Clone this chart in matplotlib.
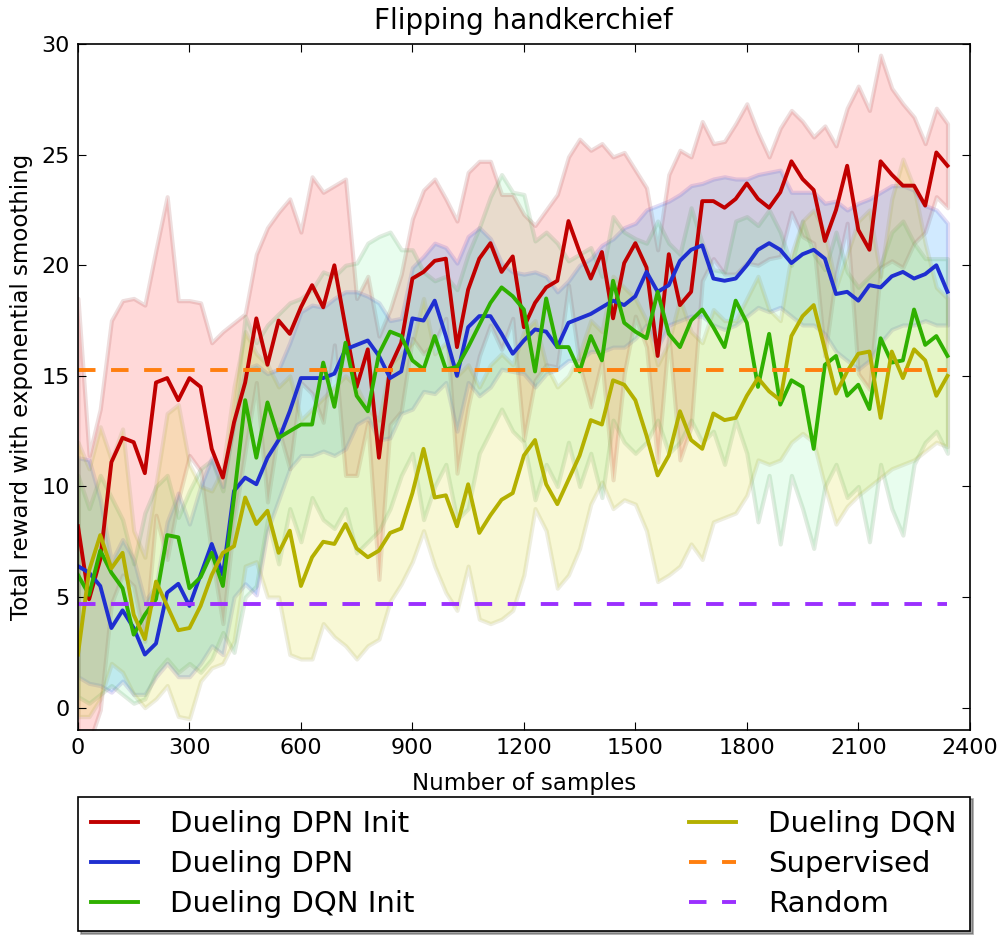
import matplotlib
matplotlib.use("Agg")
import matplotlib.pyplot as plt
import numpy as np

# sample axis: one point every 30 samples, 0 .. 2340
samples = np.arange(0, 2341, 30)

# ── Dueling DPN Init (red) ──
dpn_init = [8.2, 4.9, 6.7, 11.1, 12.2, 12.0, 10.6, 14.7, 14.9, 13.9, 14.9, 14.5, 11.7, 10.4,
            12.9, 14.7, 17.6, 15.5, 17.5, 16.9, 18.1, 19.1, 18.1, 20.0, 17.2, 14.5, 16.2, 11.3,
            15.4, 16.5, 19.4, 19.7, 20.2, 20.3, 16.3, 18.9, 20.3, 21.0, 19.7, 20.4, 17.2,
            18.3, 19.0, 19.3, 22.0, 20.6, 19.4, 20.6, 17.6, 20.1, 21.0, 19.9, 15.9, 20.5,
            18.2, 18.8, 22.9, 22.9, 22.6, 23.0, 23.7, 23.0, 22.6, 23.3, 24.7, 23.9, 23.4,
            21.1, 22.5, 24.5, 21.6, 20.7, 24.7, 24.1, 23.6, 23.6, 22.7, 25.1, 24.5]
dpn_init_hi = [18.5, 11.4, 13.5, 17.5, 18.4, 18.5, 18.2, 20.7, 23.1, 18.4, 18.4, 18.3, 16.5, 17.0,
               17.4, 17.8, 20.5, 21.7, 22.4, 23.0, 21.5, 24.0, 23.3, 23.6, 23.9, 18.5, 19.5, 16.8,
               18.0, 19.6, 22.1, 23.4, 23.9, 23.0, 22.0, 24.2, 24.7, 24.7, 23.2, 23.2, 22.3,
               21.8, 22.5, 23.2, 24.9, 25.7, 25.2, 25.5, 24.9, 25.1, 24.3, 23.5, 20.7, 24.1,
               25.2, 24.9, 26.5, 25.5, 25.6, 26.4, 27.3, 26.0, 24.9, 26.2, 27.0, 26.5, 25.8,
               26.3, 25.4, 27.1, 28.1, 27.0, 29.5, 28.0, 27.3, 26.7, 25.5, 27.1, 26.4]
dpn_init_lo = [-2.1, -1.6, -0.1, 4.7, 6.0, 5.5, 3.0, 8.7, 6.7, 9.4, 11.4, 10.7, 6.9, 3.8,
               8.4, 11.6, 14.7, 9.3, 12.6, 10.8, 14.7, 14.2, 12.9, 16.4, 10.5, 10.5, 12.9, 5.8,
               12.8, 13.4, 16.7, 16.0, 16.5, 17.6, 10.6, 13.6, 15.9, 17.3, 16.2, 17.6, 12.1,
               14.8, 15.5, 15.4, 19.1, 15.5, 13.6, 15.7, 10.3, 15.1, 17.7, 16.3, 11.1, 16.9,
               11.2, 12.7, 19.3, 20.3, 19.6, 19.6, 20.1, 20.0, 20.3, 20.4, 22.4, 21.3, 21.0,
               15.9, 19.6, 21.9, 15.1, 14.4, 19.9, 20.2, 19.9, 21.0, 21.5, 23.1, 22.6]

# ── Dueling DPN (blue) ──
dpn = [6.4, 6.1, 5.5, 3.6, 4.4, 3.6, 2.4, 2.9, 5.2, 5.6, 4.6, 6.0, 7.4, 6.0,
       9.8, 10.4, 10.1, 11.3, 12.1, 13.4, 14.9, 14.9, 14.9, 15.1, 16.2, 16.4, 16.6, 15.9,
       14.9, 15.2, 17.6, 17.5, 18.4, 16.8, 15.0, 17.2, 17.7, 17.7, 16.9, 16.0, 16.6,
       17.1, 17.0, 16.3, 17.4, 17.6, 17.8, 18.1, 18.4, 18.2, 18.6, 19.7, 18.8, 19.1,
       20.2, 20.7, 20.9, 19.4, 19.3, 19.4, 20.0, 20.7, 21.0, 20.7, 20.1, 20.5, 20.7,
       20.3, 18.7, 18.8, 18.4, 19.1, 19.0, 19.5, 19.7, 19.4, 19.6, 20.0, 18.8]
dpn_hi = [11.3, 11.2, 9.4, 6.6, 7.6, 6.7, 4.8, 5.5, 8.4, 9.7, 8.3, 10.0, 11.3, 10.0,
          12.9, 15.3, 15.5, 15.1, 15.3, 16.5, 17.9, 18.2, 18.1, 18.5, 18.8, 18.8, 18.6, 18.3,
          17.5, 17.6, 19.9, 20.4, 21.0, 20.8, 20.1, 21.3, 21.7, 21.2, 20.1, 19.7, 19.6,
          19.7, 19.5, 18.8, 19.3, 20.0, 20.3, 20.9, 21.2, 21.7, 21.9, 22.5, 22.7, 22.9,
          23.2, 23.6, 23.7, 23.9, 24.0, 23.9, 23.9, 24.1, 24.2, 24.3, 23.3, 23.3, 23.3,
          22.8, 22.9, 22.5, 22.8, 23.0, 23.3, 23.6, 23.6, 23.4, 22.7, 22.5, 21.9]
dpn_lo = [1.4, 1.1, 1.0, 0.7, 1.2, 0.6, 0.6, 1.4, 2.0, 1.4, 1.4, 2.0, 2.8, 2.4,
          5.0, 5.6, 5.1, 8.0, 9.4, 10.8, 11.4, 11.4, 11.6, 11.4, 11.7, 12.8, 13.1, 12.1,
          12.2, 13.3, 13.5, 14.3, 14.2, 14.7, 12.5, 14.7, 14.1, 14.5, 15.3, 15.2, 15.1,
          14.5, 15.1, 15.3, 15.7, 15.7, 16.1, 16.1, 16.3, 16.3, 16.7, 17.3, 16.3, 17.3,
          17.5, 17.7, 17.7, 17.3, 17.1, 17.3, 17.7, 18.1, 17.9, 18.1, 17.7, 17.3, 17.3,
          16.9, 16.1, 15.7, 15.3, 15.7, 16.5, 17.1, 17.3, 17.3, 17.5, 17.3, 17.3]

# ── Dueling DQN Init (green) ──
dqn_init = [6.0, 5.1, 7.1, 6.1, 5.4, 3.3, 4.2, 4.9, 7.8, 7.7, 5.4, 5.9, 7.0, 5.5,
            9.5, 13.9, 11.3, 13.8, 12.2, 12.5, 12.8, 12.8, 15.6, 13.6, 16.5, 14.1, 13.4, 16.0,
            17.0, 16.8, 15.7, 15.3, 16.8, 15.3, 15.4, 16.3, 17.3, 18.3, 19.0, 18.6, 18.0,
            15.2, 18.5, 16.3, 16.3, 15.2, 16.8, 15.7, 19.3, 17.4, 17.0, 16.7, 18.8, 16.9,
            16.3, 17.5, 18.0, 17.2, 16.3, 18.4, 17.4, 14.5, 16.9, 13.7, 14.8, 14.5, 11.7,
            15.5, 15.9, 14.1, 14.6, 13.5, 16.7, 15.6, 15.7, 18.0, 16.4, 16.8, 15.9]
dqn_init_hi = [10.5, 9.0, 10.5, 9.5, 8.5, 6.5, 8.8, 10.0, 10.5, 8.6, 9.8, 10.8, 11.2, 9.8,
               13.0, 17.7, 16.5, 17.3, 17.8, 18.3, 18.5, 18.9, 19.7, 19.5, 20.0, 20.1, 21.0, 21.3,
               21.5, 20.7, 20.7, 19.7, 19.3, 19.5, 18.9, 20.5, 21.7, 23.1, 24.1, 23.3, 23.2,
               21.1, 21.5, 21.0, 20.2, 20.5, 20.8, 19.5, 22.2, 21.5, 21.2, 21.0, 22.0, 21.0,
               20.5, 22.6, 21.0, 19.8, 19.7, 22.0, 22.2, 21.8, 22.5, 21.5, 20.0, 22.0, 20.5,
               19.8, 21.5, 19.7, 19.0, 19.5, 20.0, 21.5, 22.0, 21.0, 20.3, 20.3, 20.3]
dqn_init_lo = [0.5, 0.2, 0.6, 1.0, 0.6, 0.2, 0.4, 1.6, 2.2, 1.6, 2.0, 1.6, 2.2, 3.4,
               2.5, 5.0, 5.5, 8.5, 6.5, 9.0, 7.5, 9.5, 8.5, 8.1, 9.0, 7.0, 7.5, 8.0,
               9.0, 10.5, 11.5, 8.5, 10.0, 11.0, 8.5, 9.0, 11.5, 12.5, 13.5, 12.5, 12.0,
               9.4, 11.0, 10.0, 12.0, 10.0, 11.5, 9.5, 13.0, 12.0, 11.5, 12.0, 13.0, 11.5,
               12.0, 13.0, 12.0, 12.5, 11.0, 13.0, 11.5, 8.4, 10.5, 7.4, 10.5, 9.0, 7.2,
               10.0, 11.0, 9.5, 10.0, 7.5, 11.0, 9.0, 7.8, 11.0, 12.0, 12.5, 11.5]

# ── Dueling DQN (olive) ──
dqn = [2.4, 6.2, 7.8, 6.3, 7.0, 4.2, 3.1, 5.7, 4.6, 3.5, 3.6, 4.6, 6.0, 7.0,
       7.3, 9.5, 8.3, 8.9, 7.0, 8.0, 5.5, 6.8, 7.5, 7.4, 8.3, 7.2, 6.8, 7.1,
       7.9, 8.1, 9.7, 11.7, 9.5, 9.6, 8.2, 10.1, 7.9, 8.7, 9.4, 9.7, 11.4,
       12.1, 10.1, 9.2, 10.3, 11.4, 13.0, 12.8, 14.8, 14.6, 13.9, 12.3, 10.5, 11.4,
       13.4, 12.1, 11.7, 13.3, 13.0, 13.1, 14.1, 14.9, 14.3, 13.9, 16.8, 17.7, 18.2,
       16.2, 14.2, 15.2, 16.0, 16.1, 13.1, 16.1, 14.9, 16.2, 15.7, 14.1, 15.0]
dqn_hi = [12.0, 10.8, 12.7, 11.2, 12.6, 8.0, 6.8, 10.1, 13.3, 13.7, 11.0, 10.0, 9.8, 10.8,
          14.5, 17.0, 16.0, 15.5, 14.5, 15.0, 13.0, 13.5, 14.0, 14.5, 15.0, 14.5, 13.5, 13.0,
          15.5, 16.0, 16.5, 18.5, 16.0, 16.5, 15.0, 15.5, 14.5, 15.5, 16.0, 15.5, 17.0,
          17.5, 15.5, 14.5, 15.0, 16.0, 17.5, 17.0, 19.5, 19.0, 18.5, 17.5, 15.5, 16.5,
          18.5, 17.0, 16.5, 18.0, 17.5, 17.5, 18.5, 19.5, 18.0, 17.5, 20.5, 22.0, 22.5,
          21.5, 19.0, 20.5, 22.0, 22.5, 19.5, 23.0, 24.8, 23.5, 21.0, 19.0, 18.5]
dqn_lo = [-0.4, -0.4, 0.4, 2.0, 1.6, 0.6, 0.0, 0.4, 1.0, -0.4, -0.5, 1.2, 1.8, 2.0,
          3.0, 6.4, 6.6, 5.0, 5.0, 2.4, 2.2, 2.2, 3.8, 3.2, 2.8, 2.2, 2.8, 3.1,
          4.8, 5.6, 6.6, 8.0, 6.4, 5.2, 4.4, 6.4, 4.0, 3.8, 4.0, 4.4, 6.0,
          9.0, 8.0, 5.4, 6.0, 7.2, 9.2, 10.2, 9.0, 9.4, 9.2, 8.0, 5.7, 6.0,
          6.4, 7.4, 6.7, 8.4, 8.6, 8.8, 9.6, 11.2, 11.0, 11.2, 12.0, 12.4, 12.0,
          10.0, 8.3, 9.1, 9.6, 10.0, 10.4, 10.8, 11.0, 11.2, 11.6, 12.0, 11.8]

# baselines
supervised = 15.25
random_policy = 4.68

series = [
    ("Dueling DPN Init", dpn_init, dpn_init_lo, dpn_init_hi,
     "#c00000", (1.0, 0.0, 0.0, 0.15), (0.6, 0.2, 0.2, 0.16)),
    ("Dueling DPN", dpn, dpn_lo, dpn_hi,
     "#1f2fd0", (0.1, 0.6, 1.0, 0.2), (0.45, 0.35, 0.8, 0.2)),
    ("Dueling DQN Init", dqn_init, dqn_init_lo, dqn_init_hi,
     "#2fb000", (0.2, 0.95, 0.4, 0.11), (0.35, 0.6, 0.35, 0.18)),
    ("Dueling DQN", dqn, dqn_lo, dqn_hi,
     "#b4b000", (0.85, 0.85, 0.1, 0.18), (0.6, 0.6, 0.25, 0.16)),
]

fig = plt.figure(figsize=(10.06, 9.38), dpi=100)
ax = fig.add_axes([0.0775, 0.222, 0.8865, 0.731])

for name, mean, lo, hi, c, face, edge in series:
    ax.fill_between(samples, lo, hi, facecolor=face, edgecolor=edge, linewidth=3)

for name, mean, lo, hi, c, face, edge in series:
    ax.plot(samples, mean, color=c, linewidth=2.8, label=name)

ax.plot(samples, [supervised] * len(samples), "--", color="#ff7f0e",
        linewidth=2.8, dashes=(4.5, 4), label="Supervised")
ax.plot(samples, [random_policy] * len(samples), "--", color="#9b30ff",
        linewidth=2.8, dashes=(4.5, 4), label="Random")

ax.set_xlim(0, 2400)
ax.set_ylim(-1, 30)
ax.set_xticks(np.arange(0, 2401, 300))
ax.set_yticks(np.arange(0, 31, 5))
ax.tick_params(direction="in", top=True, right=True, length=6, labelsize=16, pad=6)
for s in ax.spines.values():
    s.set_linewidth(1.2)

ax.set_title("Flipping handkerchief", fontsize=20, pad=11)
ax.set_xlabel("Number of samples", fontsize=16.5, labelpad=10)
ax.set_ylabel("Total reward with exponential smoothing", fontsize=16.5, labelpad=6)

# legend below the axes, two columns, full axes width
handles, labels = ax.get_legend_handles_labels()
leg = ax.legend(handles, labels, ncol=2, loc="upper left",
                bbox_to_anchor=(0.0, -0.30, 1.0, 0.2025), mode="expand",
                fontsize=21, shadow=True, fancybox=False, frameon=True,
                handlelength=1.6, handletextpad=1.1, labelspacing=0.42,
                borderpad=0.45, borderaxespad=0.0)
leg.get_frame().set_edgecolor("black")
leg.get_frame().set_linewidth(1.2)

fig.savefig("out.png", dpi=100)
